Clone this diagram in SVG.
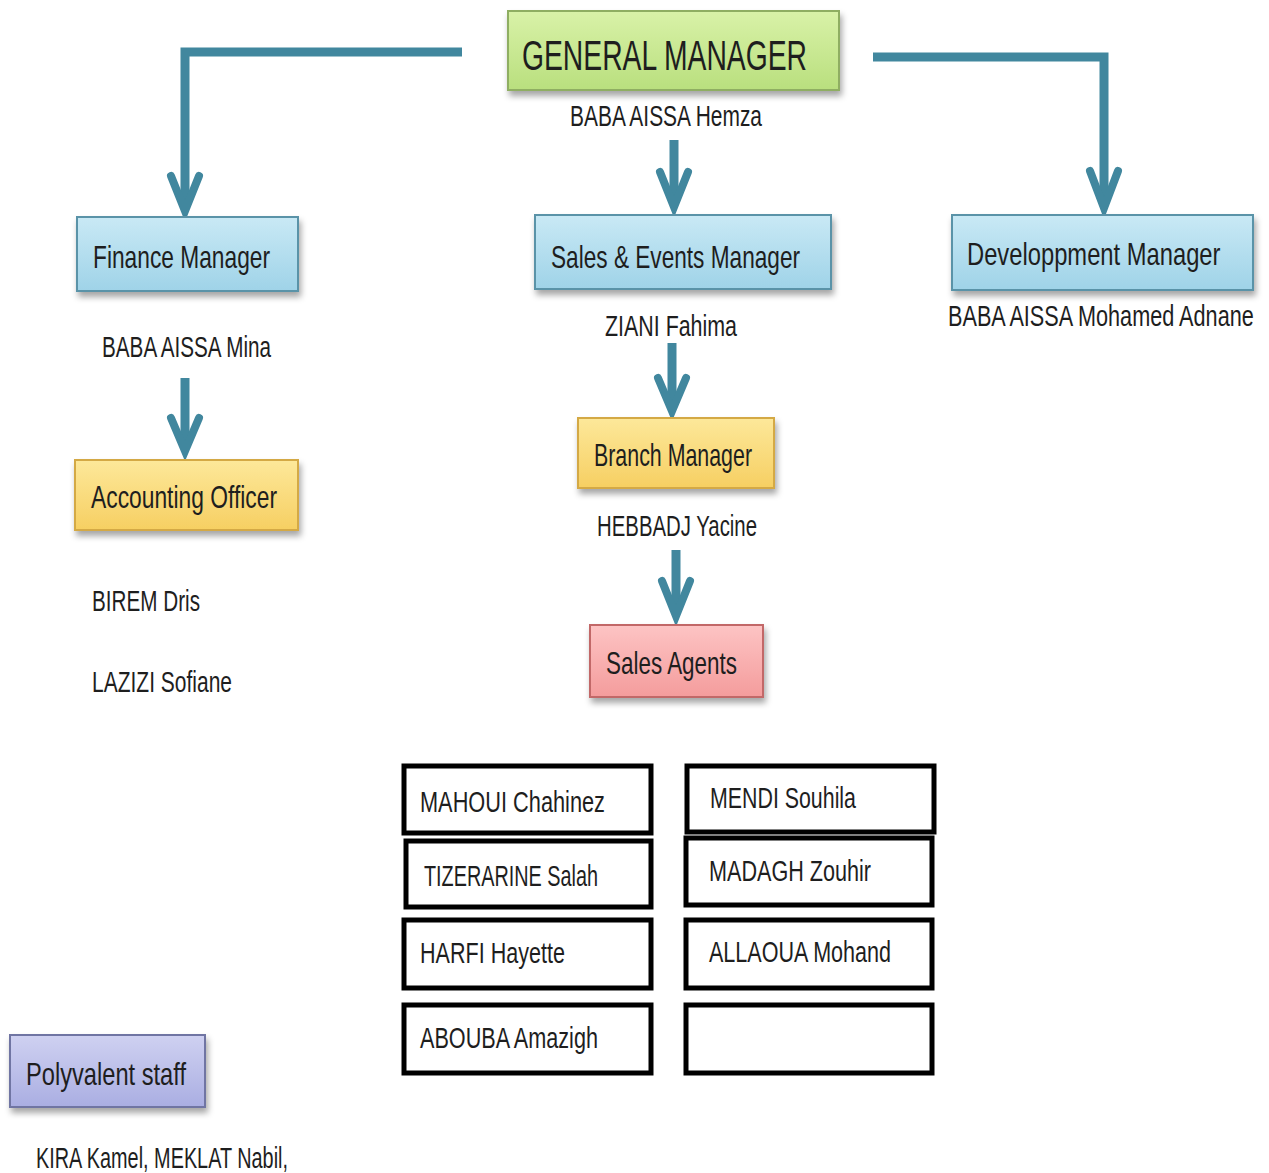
<svg xmlns="http://www.w3.org/2000/svg" width="1269" height="1173" viewBox="0 0 1269 1173">
<defs>
  <linearGradient id="gGreen" x1="0" y1="0" x2="0" y2="1">
    <stop offset="0" stop-color="#d9f2a8"/><stop offset="1" stop-color="#b9df7e"/>
  </linearGradient>
  <linearGradient id="gBlue" x1="0" y1="0" x2="0" y2="1">
    <stop offset="0" stop-color="#c9e9f5"/><stop offset="1" stop-color="#9fd3e8"/>
  </linearGradient>
  <linearGradient id="gYellow" x1="0" y1="0" x2="0" y2="1">
    <stop offset="0" stop-color="#fde89a"/><stop offset="1" stop-color="#f6cf62"/>
  </linearGradient>
  <linearGradient id="gPink" x1="0" y1="0" x2="0" y2="1">
    <stop offset="0" stop-color="#fdc4c4"/><stop offset="1" stop-color="#f49c9c"/>
  </linearGradient>
  <linearGradient id="gPurple" x1="0" y1="0" x2="0" y2="1">
    <stop offset="0" stop-color="#cfd1f1"/><stop offset="1" stop-color="#aaaee2"/>
  </linearGradient>
  <filter id="shadow" x="-10%" y="-20%" width="125%" height="160%">
    <feDropShadow dx="2" dy="5" stdDeviation="3" flood-color="#000" flood-opacity="0.35"/>
  </filter>
</defs>
<style>
  text { font-family: "Liberation Sans", Arial, sans-serif; fill: #1e1e1e; }
  .lbl { font-size: 32px; }
  .nm { font-size: 29px; }
  .box { stroke-width: 2; filter: url(#shadow); }
  .green { fill: url(#gGreen); stroke: #8fae62; }
  .blue { fill: url(#gBlue); stroke: #5a93a8; }
  .yellow { fill: url(#gYellow); stroke: #d4a945; }
  .pink { fill: url(#gPink); stroke: #c26868; }
  .purple { fill: url(#gPurple); stroke: #6f74a3; }
  .card { fill: #ffffff; stroke: #000; stroke-width: 5; }
  .conn { fill: none; stroke: #41879e; stroke-width: 9; stroke-linecap: butt; stroke-linejoin: miter; }
  .head { fill: none; stroke: #41879e; stroke-width: 8; stroke-linecap: round; stroke-linejoin: miter; }
</style>
<rect width="1269" height="1173" fill="#ffffff"/>

<g id="connectors">
  <path class="conn" d="M462,52 H185 V208"/>
  <polyline class="head" points="171,176 185,211 199,176"/>
  <path class="conn" d="M873,57 H1104 V206"/>
  <polyline class="head" points="1090,171 1104,208 1118,171"/>
  <path class="conn" d="M674,140 V204"/>
  <polyline class="head" points="660,172 674,207 688,172"/>
  <path class="conn" d="M672,343 V408"/>
  <polyline class="head" points="658,378 672,411 686,378"/>
  <path class="conn" d="M676,550 V613"/>
  <polyline class="head" points="662,581 676,616 690,581"/>
  <path class="conn" d="M185,378 V447"/>
  <polyline class="head" points="171,418 185,451 199,418"/>
</g>

<g id="general-manager">
  <rect class="box green" x="508" y="11" width="331" height="79"/>
  <text x="522" y="70" style="font-size:42px" textLength="285" lengthAdjust="spacingAndGlyphs">GENERAL MANAGER</text>
  <text class="nm" x="570" y="126" textLength="192" lengthAdjust="spacingAndGlyphs">BABA AISSA Hemza</text>
</g>

<g id="finance-manager">
  <rect class="box blue" x="77" y="217" width="221" height="74"/>
  <text class="lbl" x="93" y="268" textLength="177" lengthAdjust="spacingAndGlyphs">Finance Manager</text>
  <text class="nm" x="102" y="357" textLength="169" lengthAdjust="spacingAndGlyphs">BABA AISSA Mina</text>
</g>

<g id="sales-events-manager">
  <rect class="box blue" x="535" y="215" width="296" height="74"/>
  <text class="lbl" x="551" y="268" textLength="249" lengthAdjust="spacingAndGlyphs">Sales &amp; Events Manager</text>
  <text class="nm" x="605" y="336" textLength="132" lengthAdjust="spacingAndGlyphs">ZIANI Fahima</text>
</g>

<g id="development-manager">
  <rect class="box blue" x="952" y="215" width="301" height="75"/>
  <text class="lbl" transform="translate(967,265) scale(0.78,1)" x="0" y="0" textLength="325" lengthAdjust="spacingAndGlyphs">Developpment Manager</text>
  <text class="nm" transform="translate(948,326) scale(0.78,1)" x="0" y="0" textLength="392" lengthAdjust="spacingAndGlyphs">BABA AISSA Mohamed Adnane</text>
</g>

<g id="branch-manager">
  <rect class="box yellow" x="578" y="418" width="196" height="70"/>
  <text class="lbl" x="594" y="466" textLength="158" lengthAdjust="spacingAndGlyphs">Branch Manager</text>
  <text class="nm" x="597" y="536" textLength="160" lengthAdjust="spacingAndGlyphs">HEBBADJ Yacine</text>
</g>

<g id="sales-agents">
  <rect class="box pink" x="590" y="625" width="173" height="72"/>
  <text class="lbl" x="606" y="674" textLength="131" lengthAdjust="spacingAndGlyphs">Sales Agents</text>
</g>

<g id="accounting-officer">
  <rect class="box yellow" x="75" y="460" width="223" height="70"/>
  <text class="lbl" x="91" y="508" textLength="186" lengthAdjust="spacingAndGlyphs">Accounting Officer</text>
  <text class="nm" x="92" y="611" textLength="108" lengthAdjust="spacingAndGlyphs">BIREM Dris</text>
  <text class="nm" x="92" y="692" textLength="140" lengthAdjust="spacingAndGlyphs">LAZIZI Sofiane</text>
</g>

<g id="agents-list">
  <rect class="card" x="404" y="766" width="247" height="67"/>
  <text class="nm" x="420" y="812" textLength="185" lengthAdjust="spacingAndGlyphs">MAHOUI Chahinez</text>
  <rect class="card" x="687" y="766" width="247" height="66"/>
  <text class="nm" x="710" y="808" textLength="146" lengthAdjust="spacingAndGlyphs">MENDI Souhila</text>
  <rect class="card" x="406" y="841" width="245" height="66"/>
  <text class="nm" x="424" y="886" textLength="174" lengthAdjust="spacingAndGlyphs">TIZERARINE Salah</text>
  <rect class="card" x="686" y="838" width="246" height="67"/>
  <text class="nm" x="709" y="881" textLength="162" lengthAdjust="spacingAndGlyphs">MADAGH Zouhir</text>
  <rect class="card" x="404" y="920" width="247" height="68"/>
  <text class="nm" x="420" y="963" textLength="145" lengthAdjust="spacingAndGlyphs">HARFI Hayette</text>
  <rect class="card" x="686" y="920" width="246" height="68"/>
  <text class="nm" x="709" y="962" textLength="182" lengthAdjust="spacingAndGlyphs">ALLAOUA Mohand</text>
  <rect class="card" x="404" y="1005" width="247" height="68"/>
  <text class="nm" x="420" y="1048" textLength="178" lengthAdjust="spacingAndGlyphs">ABOUBA Amazigh</text>
  <rect class="card" x="686" y="1005" width="246" height="68"/>
</g>

<g id="polyvalent-staff">
  <rect class="box purple" x="10" y="1035" width="195" height="72"/>
  <text class="lbl" x="26" y="1085" textLength="160" lengthAdjust="spacingAndGlyphs">Polyvalent staff</text>
  <text class="nm" x="36" y="1168" textLength="252" lengthAdjust="spacingAndGlyphs">KIRA Kamel, MEKLAT Nabil,</text>
</g>
</svg>
